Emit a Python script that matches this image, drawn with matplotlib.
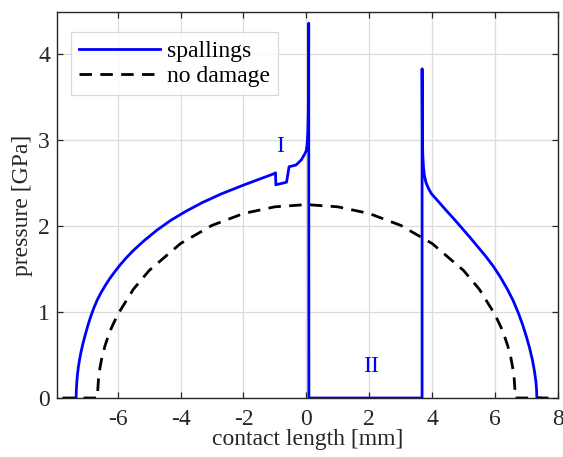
import matplotlib
matplotlib.use("Agg")
import matplotlib.pyplot as plt

plt.rcParams['font.family'] = ['Liberation Serif', 'DejaVu Serif']
plt.rcParams['axes.unicode_minus'] = False

# Pressure profile with spalling damage (contact length in mm, pressure in GPa)
spall_x = [-7.32, -7.315, -7.30, -7.28, -7.25, -7.21, -7.16, -7.10, -7.03, -6.95,
           -6.86, -6.76, -6.65, -6.53, -6.40, -6.26, -6.10, -5.93, -5.74, -5.52,
           -5.16, -4.76, -4.32, -3.84, -3.30,
           -2.70, -2.01, -1.50, -1.02, -0.98, -0.97, -0.63, -0.55, -0.33, -0.16,
           -0.05, 0.0, 0.03, 0.05, 0.06, 0.068, 0.075, 0.08,
           3.68, 3.68, 3.685, 3.69, 3.70, 3.72, 3.75, 3.80, 3.88, 3.97, 4.2,
           4.44, 4.7, 4.95, 5.2, 5.45, 5.7, 5.95, 6.18, 6.40, 6.58,
           6.74, 6.88, 7.0, 7.1, 7.19, 7.25, 7.30, 7.32, 7.33, 7.45]
spall_p = [0.0, 0.09, 0.18, 0.27, 0.36, 0.45, 0.545, 0.64, 0.735, 0.84,
           0.945, 1.045, 1.14, 1.225, 1.305, 1.385, 1.465, 1.545, 1.625, 1.71,
           1.83, 1.95, 2.065, 2.17, 2.275,
           2.375, 2.475, 2.545, 2.61, 2.62, 2.48, 2.51, 2.69, 2.71, 2.77,
           2.84, 2.88, 2.98, 3.12, 3.30, 3.60, 4.36, 0.0,
           0.0, 3.83, 3.40, 3.10, 2.85, 2.70, 2.60, 2.51, 2.44, 2.38, 2.285,
           2.185, 2.08, 1.975, 1.87, 1.76, 1.65, 1.53, 1.40, 1.26, 1.13,
           0.99, 0.85, 0.71, 0.58, 0.44, 0.32, 0.19, 0.10, 0.0, 0.0]

# Undamaged (Hertzian) pressure profile
intact_x = [-7.75, -6.65, -6.6, -6.5, -6.4, -6.3, -6.2, -6.0, -5.5, -5.0,
            -4.0, -3.0, -2.0, -1.0, 0.0, 1.0, 2.0, 3.0, 4.0, 5.0,
            5.5, 6.0, 6.2, 6.3, 6.4, 6.5, 6.6, 6.65, 7.7]
intact_p = [0.0, 0.0, 0.275, 0.475, 0.611, 0.72, 0.814, 0.97, 1.265, 1.483,
            1.797, 2.008, 2.146, 2.224, 2.25, 2.224, 2.146, 2.008, 1.797, 1.483,
            1.265, 0.97, 0.814, 0.72, 0.611, 0.475, 0.275, 0.0, 0.0]

x_ticks = [-6, -4, -2, 0, 2, 4, 6, 8]
y_ticks = [0, 1, 2, 3, 4]

fig = plt.figure(figsize=(5.63, 4.57), dpi=100)
ax = fig.add_axes([0.1012, 0.1291, 0.8898, 0.8446])

ax.plot(spall_x, spall_p, color='#0000ff', lw=2.0, label='spallings', zorder=3)
ax.plot(intact_x, intact_p, color='black', lw=2.0, dashes=(4.5, 3.0),
        label='no damage', zorder=4)

ax.text(-0.82, 2.92, 'I', color='#0000ff', fontsize=17, ha='center', va='center')
ax.text(2.07, 0.37, 'II', color='#0000ff', fontsize=17, ha='center', va='center')

ax.set_xlim(-7.93, 8)
ax.set_ylim(0, 4.49)
ax.set_xticks(x_ticks)
ax.set_yticks(y_ticks)
ax.grid(True, color='#dcdcdc', lw=0.9)
ax.set_axisbelow(True)
ax.tick_params(direction='in', top=True, right=True, length=4, width=0.9,
               labelsize=17, colors='#262626')
ax.tick_params(axis='x', pad=8)
ax.tick_params(axis='y', pad=5)
for s in ax.spines.values():
    s.set_color('#262626')
    s.set_linewidth(1.0)

ax.set_xlabel('contact length [mm]', fontsize=17, color='#262626', labelpad=-1)
ax.set_ylabel('pressure [GPa]', fontsize=17, color='#262626', labelpad=4)

leg = ax.legend(loc='upper left', bbox_to_anchor=(0.028, 0.948), fontsize=17,
                frameon=True, fancybox=False, edgecolor='#d0d0d0',
                handlelength=3.4, handletextpad=0.3, borderpad=0.35,
                labelspacing=0.15, borderaxespad=0)
leg.get_frame().set_linewidth(0.9)

fig.savefig('out.png', dpi=100)
